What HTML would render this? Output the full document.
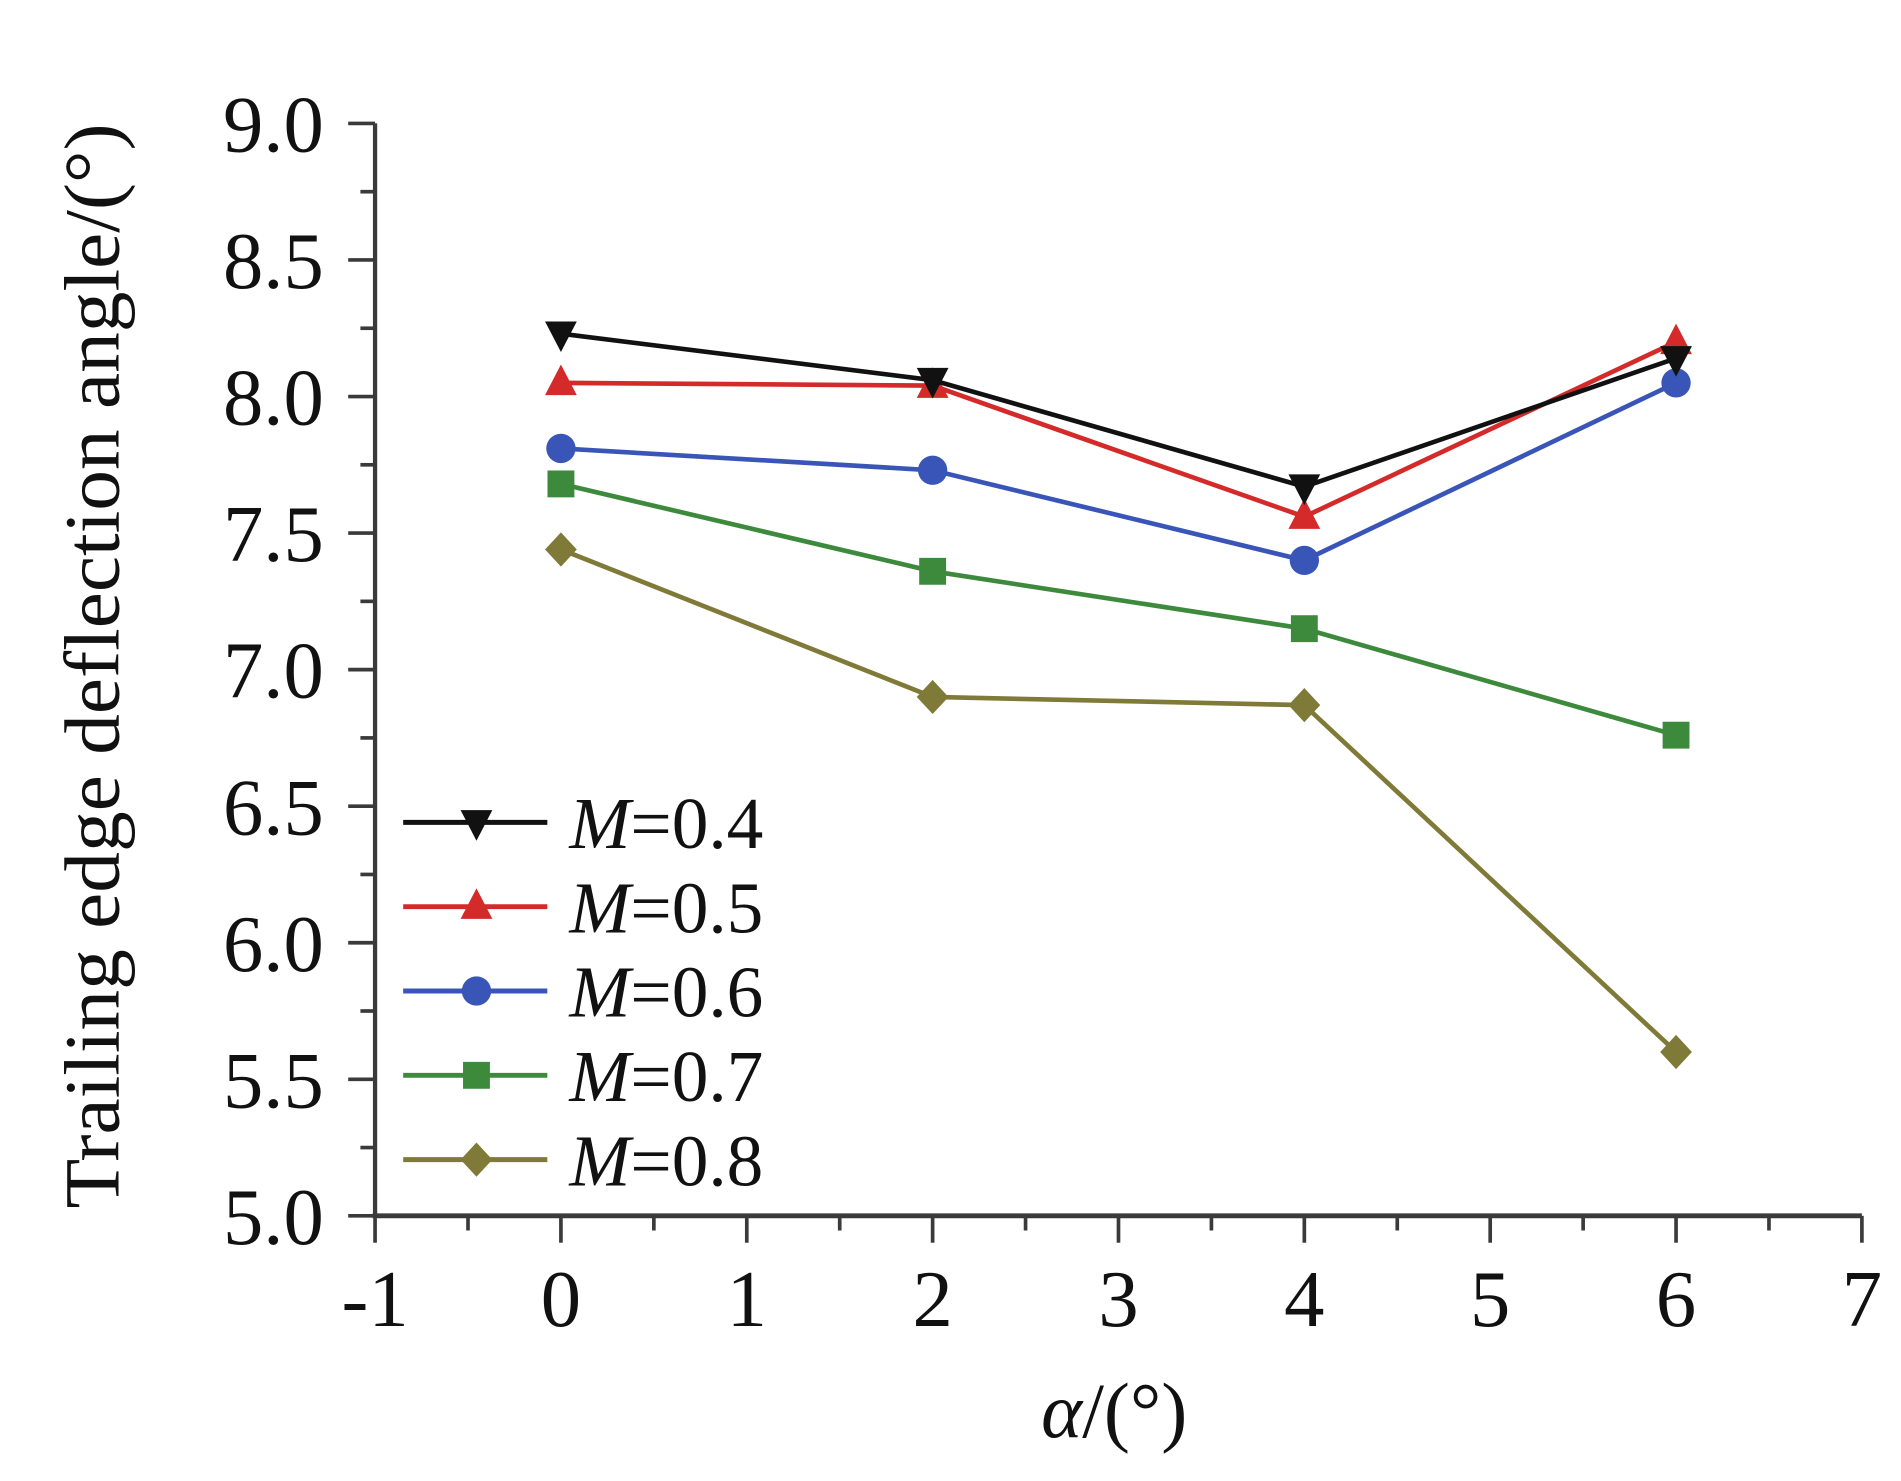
<!DOCTYPE html>
<html><head><meta charset="utf-8"><style>
html,body{margin:0;padding:0;background:#fff;}
svg{display:block;}
text{font-family:"Liberation Serif","Times New Roman",serif;fill:#111;}
</style></head><body>
<svg id="chart" width="1901" height="1481" viewBox="0 0 1556 1212" preserveAspectRatio="none" xmlns="http://www.w3.org/2000/svg"></svg>
<script>
const categories = [0, 2, 4, 6];
const seriesNames = ["M=0.4", "M=0.5", "M=0.6", "M=0.7", "M=0.8"];
const m04 = [8.23, 8.06, 7.67, 8.14];
const m05 = [8.05, 8.04, 7.56, 8.20];
const m06 = [7.81, 7.73, 7.40, 8.05];
const m07 = [7.68, 7.36, 7.15, 6.76];
const m08 = [7.44, 6.90, 6.87, 5.60];
const xTicks = [-1, 0, 1, 2, 3, 4, 5, 6, 7];
const yTicks = ["5.0", "5.5", "6.0", "6.5", "7.0", "7.5", "8.0", "8.5", "9.0"];

const svg = document.getElementById('chart');
const NS = 'http://www.w3.org/2000/svg';
const X0 = 307, X1 = 1524, Y0 = 995, Y1 = 101;
function xs(v){ return X0 + (v + 1) / 8 * (X1 - X0); }
function ys(v){ return Y0 - (v - 5) / 4 * (Y0 - Y1); }
function mk(tag, attrs, parent){
  const e = document.createElementNS(NS, tag);
  for (const k in attrs) e.setAttribute(k, attrs[k]);
  (parent || svg).appendChild(e);
  return e;
}
const FONT = '"Liberation Serif", serif';
const axisColor = '#3a3a3a';
const yAxis = mk('line', {x1:X0, y1:Y1, x2:X0, y2:Y0, stroke:axisColor, 'stroke-width':3.5});


const xAxis = mk('line', {x1:X0-2, y1:Y0, x2:X1, y2:Y0, stroke:axisColor, 'stroke-width':4});


for (let i = 0; i <= 16; i++) {
  const v = 5 + i * 0.25, y = ys(v), major = i % 2 === 0;
  const t = mk('line', {x1:X0 - (major ? 22 : 12), y1:y, x2:X0, y2:y, stroke:axisColor, 'stroke-width':3});
  
  
}
yTicks.forEach(s => {
  const t = mk('text', {x:265, y:ys(parseFloat(s)) + 23, 'text-anchor':'end', 'font-size':66, 'font-family':FONT});
  t.textContent = s;
  
  
});
for (let i = 0; i <= 16; i++) {
  const v = -1 + i * 0.5, x = xs(v), major = i % 2 === 0;
  const t = mk('line', {x1:x, y1:Y0, x2:x, y2:Y0 + (major ? 22 : 12), stroke:axisColor, 'stroke-width':3});
  
  
}
xTicks.forEach(v => {
  const t = mk('text', {x:xs(v), y:1085, 'text-anchor':'middle', 'font-size':66, 'font-family':FONT});
  t.textContent = String(v);
  
  
});
const yt = mk('text', {x:0, y:0, transform:'translate(97,545) rotate(-90)', 'text-anchor':'middle', 'font-size':64, 'font-family':FONT, textLength:888, lengthAdjust:'spacingAndGlyphs'});
yt.textContent = 'Trailing edge deflection angle/(°)';


const xt = mk('text', {x:912, y:1176, 'text-anchor':'middle', 'font-size':64, 'font-family':FONT});
xt.innerHTML = '<tspan font-style="italic">α</tspan>/(°)';



const colors = ['#111111', '#d42a2a', '#3a55b8', '#3d8a3d', '#807a38'];
const shapes = ['tri-down', 'tri-up', 'circle', 'square', 'diamond'];
const data = [m04, m05, m06, m07, m08];
function marker(shape, x, y, c, g){
  const s = 12;
  if (shape === 'circle') return mk('circle', {cx:x, cy:y, r:s, fill:c}, g);
  if (shape === 'square') return mk('rect', {x:x-s+1, y:y-s+1, width:2*s-2, height:2*s-2, fill:c}, g);
  let pts;
  if (shape === 'tri-down') pts = [[x-s-1,y-s+2],[x+s+1,y-s+2],[x,y+s+3]];
  else if (shape === 'tri-up') pts = [[x-s-1,y+s-2],[x+s+1,y+s-2],[x,y-s-3]];
  else pts = [[x,y-s-2],[x+s+1,y],[x,y+s+2],[x-s-1,y]];
  return mk('polygon', {points:pts.map(p => p.join(',')).join(' '), fill:c}, g);
}
for (let k = data.length - 1; k >= 0; k--) {
  const g = mk('g', {});
  
  
  const pts = categories.map((c, i) => xs(c) + ',' + ys(data[k][i])).join(' ');
  const pl = mk('polyline', {points:pts, fill:'none', stroke:colors[k], 'stroke-width':3.8}, g);
  
  
  categories.forEach((c, i) => {
    const m = marker(shapes[k], xs(c), ys(data[k][i]), colors[k], g);
    
    
  });
}
const lg = mk('g', {});


seriesNames.forEach((n, k) => {
  const y = 673 + k * 69;
  const eg = mk('g', {}, lg);
  
  
  mk('line', {x1:330, y1:y, x2:448, y2:y, stroke:colors[k], 'stroke-width':4}, eg);
  marker(shapes[k], 390, y, colors[k], eg);
  const t = mk('text', {x:466, y:y + 21, 'font-size':60, 'font-family':FONT}, eg);
  t.innerHTML = '<tspan font-style="italic">M</tspan>=' + n.slice(2);
});
</script>
</body></html>
